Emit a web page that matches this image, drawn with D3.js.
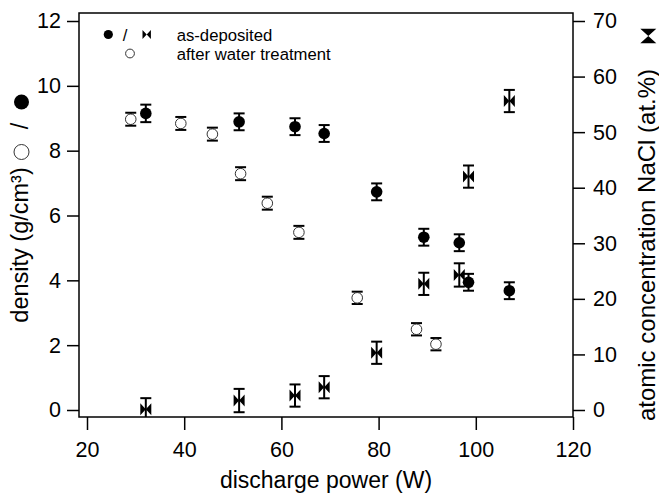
<!DOCTYPE html>
<html>
<head>
<meta charset="utf-8">
<script src="https://cdn.jsdelivr.net/npm/d3@7"></script>
<style>
  body { margin: 0; background: white; }
  text { font-family: "Liberation Sans", Arial, sans-serif; fill: black; }
</style>
</head>
<body>
<div id="wykres"></div>
<script>

// as-deposited films
var power_dep = [32.1, 51.3, 62.8, 68.8, 79.6, 89.3, 96.6, 98.5, 106.9];
var density_dep = [9.15, 8.89, 8.74, 8.53, 6.73, 5.33, 5.16, 3.94, 3.68];
var density_dep_err = [0.27, 0.26, 0.26, 0.26, 0.26, 0.26, 0.26, 0.26, 0.26];
var nacl_dep = [0.13, 1.7, 2.6, 4.1, 10.3, 22.7, 24.3, 42.0, 55.6];
var nacl_dep_err = [2.0, 2.1, 2.0, 2.0, 2.0, 2.0, 2.1, 2.0, 2.0];

// after water treatment
var power_water = [29.0, 39.3, 45.8, 51.6, 57.1, 63.6, 75.6, 87.8, 91.8];
var density_water = [8.97, 8.84, 8.51, 7.29, 6.38, 5.48, 3.46, 2.49, 2.03];
var density_water_err = [0.2, 0.2, 0.2, 0.2, 0.2, 0.2, 0.19, 0.19, 0.19];

var x_ticks = [20, 40, 60, 80, 100, 120];
var y_ticks = [0, 2, 4, 6, 8, 10, 12];
var y2_ticks = [0, 10, 20, 30, 40, 50, 60, 70];


var W = 659, H = 494;
var margin = { top: 13, right: 86, bottom: 77, left: 79 },
  width = W - margin.left - margin.right,
  height = H - margin.top - margin.bottom;

var svg0 = d3.select("#wykres")
  .append("svg")
  .attr("width", W)
  .attr("height", H);

var svg = svg0.append("g")
  .attr("transform", "translate(" + margin.left + "," + margin.top + ")");

var xscale = d3.scaleLinear()
  .domain([18.354, 120])
  .range([0, width]);

var yscale = d3.scaleLinear()
  .domain([-0.216, 12.247])
  .range([height, 0]);

var yscale2 = d3.scaleLinear()
  .domain([-1.26, 71.44])
  .range([height, 0]);


// axes
var xAxis = svg.append("g")
  .attr("transform", "translate(0," + height + ")")
  .call(d3.axisBottom(xscale).tickValues(x_ticks).tickSize(13).tickPadding(12).tickSizeOuter(0));

var yAxis = svg.append("g")
  .call(d3.axisLeft(yscale).tickValues(y_ticks).tickSize(12).tickPadding(6).tickSizeOuter(0));

var yAxis2 = svg.append("g")
  .attr("transform", "translate(" + width + ",0)")
  .call(d3.axisRight(yscale2).tickValues(y2_ticks).tickSize(12).tickPadding(8).tickSizeOuter(0));

svg.selectAll(".tick line").attr("stroke", "black").attr("stroke-width", 1.5);
svg.selectAll(".domain").remove();
svg.selectAll(".tick text").style("font-size", "21.5px").style("font-family", "Liberation Sans, Arial, sans-serif");

// frame
svg.append("rect")
  .attr("x", 0)
  .attr("y", 0)
  .attr("width", width)
  .attr("height", height)
  .attr("fill", "none")
  .attr("stroke", "black")
  .attr("stroke-width", 1.5);


svg.append("clipPath")
  .attr("id", "plotclip")
  .append("rect")
  .attr("width", width)
  .attr("height", height);

var plot = svg.append("g").attr("clip-path", "url(#plotclip)");

var cap = 5.5;

function errorBars(g, xs, ys, errs, ysc) {
  var gg = g.append("g").attr("stroke", "black").attr("stroke-width", 2);
  xs.forEach(function (xv, i) {
    var px = xscale(xv);
    var y1 = ysc(ys[i] - errs[i]), y2 = ysc(ys[i] + errs[i]);
    gg.append("line").attr("x1", px).attr("x2", px).attr("y1", y1).attr("y2", y2);
    gg.append("line").attr("x1", px - cap).attr("x2", px + cap).attr("y1", y1).attr("y2", y1);
    gg.append("line").attr("x1", px - cap).attr("x2", px + cap).attr("y1", y2).attr("y2", y2);
  });
}

function bowtie(w, h) {
  return "M" + (-w) + "," + (-h) + "L0,0L" + (-w) + "," + h + "Z" +
    "M" + w + "," + (-h) + "L0,0L" + w + "," + h + "Z";
}

function hourglass(w, h) {
  return "M" + (-w) + "," + (-h) + "L" + w + "," + (-h) + "L0,0Z" +
    "M" + (-w) + "," + h + "L" + w + "," + h + "L0,0Z";
}


// NaCl concentration (right axis)
errorBars(plot, power_dep, nacl_dep, nacl_dep_err, yscale2);
plot.append("g")
  .selectAll("path")
  .data(power_dep)
  .enter().append("path")
  .attr("d", bowtie(5.5, 6))
  .attr("transform", function (d, i) { return "translate(" + xscale(d) + "," + yscale2(nacl_dep[i]) + ")"; })
  .attr("fill", "black");

// density after water treatment
errorBars(plot, power_water, density_water, density_water_err, yscale);
plot.append("g")
  .selectAll("circle")
  .data(power_water)
  .enter().append("circle")
  .attr("cx", function (d) { return xscale(d); })
  .attr("cy", function (d, i) { return yscale(density_water[i]); })
  .attr("r", 5.3)
  .attr("fill", "white")
  .attr("stroke", "#333")
  .attr("stroke-width", 1);

// density as-deposited
errorBars(plot, power_dep, density_dep, density_dep_err, yscale);
plot.append("g")
  .selectAll("circle")
  .data(power_dep)
  .enter().append("circle")
  .attr("cx", function (d) { return xscale(d); })
  .attr("cy", function (d, i) { return yscale(density_dep[i]); })
  .attr("r", 5.8)
  .attr("fill", "black");


// legend
svg0.append("circle").attr("cx", 108.3).attr("cy", 34.5).attr("r", 4.6).attr("fill", "black");
svg0.append("text").attr("x", 125).attr("y", 40.5).attr("text-anchor", "middle")
  .style("font-size", "16.7px").text("/");
svg0.append("path").attr("d", bowtie(4.2, 4.6))
  .attr("transform", "translate(146.7,34.5)").attr("fill", "black");
svg0.append("text").attr("x", 176.7).attr("y", 40.5)
  .style("font-size", "16.7px").text("as-deposited");
svg0.append("circle").attr("cx", 130).attr("cy", 53.5).attr("r", 4.4)
  .attr("fill", "white").attr("stroke", "#333").attr("stroke-width", 1);
svg0.append("text").attr("x", 176.7).attr("y", 60)
  .style("font-size", "16.7px").text("after water treatment");


// axis titles
svg0.append("text")
  .attr("x", margin.left + width / 2)
  .attr("y", 488)
  .attr("text-anchor", "middle")
  .style("font-size", "23px")
  .text("discharge power (W)");

svg0.append("text")
  .attr("transform", "translate(28,245)rotate(-90)")
  .attr("text-anchor", "middle")
  .style("font-size", "23.5px")
  .text("density (g/cm³)");

svg0.append("circle").attr("cx", 21.5).attr("cy", 102).attr("r", 7.5).attr("fill", "black");
svg0.append("text")
  .attr("transform", "translate(28,126)rotate(-90)")
  .attr("text-anchor", "middle")
  .style("font-size", "23.5px")
  .text("/");
svg0.append("circle").attr("cx", 21.5).attr("cy", 152).attr("r", 7.5)
  .attr("fill", "white").attr("stroke", "#333").attr("stroke-width", 1);

svg0.append("text")
  .attr("transform", "translate(655,245)rotate(-90)")
  .attr("text-anchor", "middle")
  .style("font-size", "24px")
  .text("atomic concentration NaCl (at.%)");

svg0.append("path").attr("d", hourglass(8, 7.3))
  .attr("transform", "translate(648.3,36)").attr("fill", "black");

</script>
</body>
</html>
